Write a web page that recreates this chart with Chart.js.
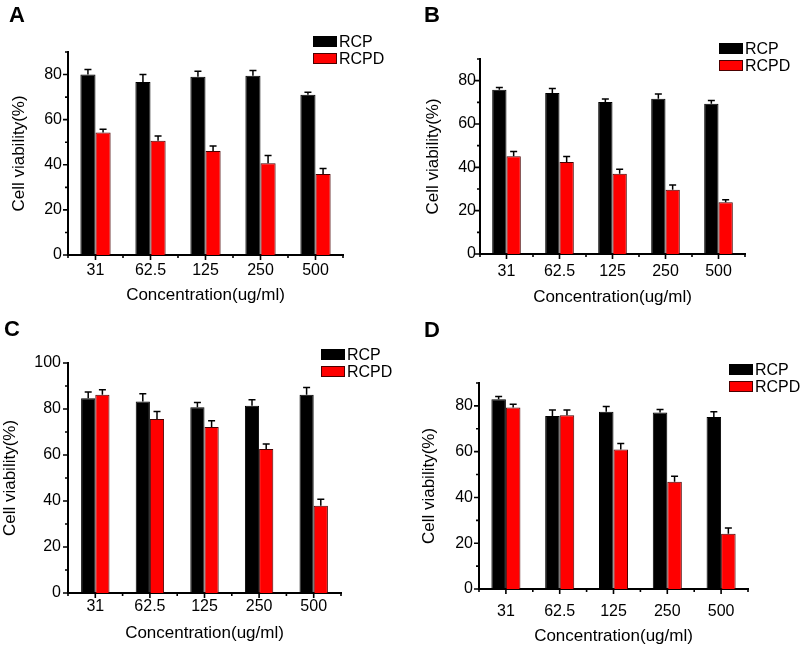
<!DOCTYPE html>
<html><head><meta charset="utf-8">
<script src="https://cdn.jsdelivr.net/npm/chart.js@4.4.0/dist/chart.umd.min.js"></script>
<style>
body{margin:0;background:#fff;}
#wrap{position:relative;width:805px;height:647px;overflow:hidden;font-family:"Liberation Sans",Arial,sans-serif;background:#fff;}
#wrap canvas{position:absolute;}
.letter{position:absolute;font-weight:bold;font-size:22px;line-height:22px;color:#000;}
.legend{position:absolute;font-size:16px;line-height:17px;color:#000;}
.row{display:flex;align-items:center;height:17px;}
.sw{width:24px;height:11px;margin-right:2px;box-sizing:border-box;}
</style></head><body><div id="wrap"></div>
<script>
// ---- data ----
const categories = ['31', '62.5', '125', '250', '500'];
const seriesNames = ['RCP', 'RCPD'];
const panelLetters = ['A', 'B', 'C', 'D'];
const xTitle = 'Concentration(ug/ml)';
const yTitle = 'Cell viability(%)';

const rcpA = [80.0, 76.7, 79.0, 79.5, 71.1];
const rcpAErr = [2.2, 3.3, 2.5, 2.3, 1.0];
const rcpdA = [54.3, 50.6, 46.1, 40.7, 35.9];
const rcpdAErr = [1.5, 2.2, 2.2, 3.4, 2.4];

const rcpB = [75.8, 74.3, 70.1, 71.6, 69.3];
const rcpBErr = [1.1, 2.1, 1.4, 2.2, 1.6];
const rcpdB = [45.1, 42.5, 37.0, 29.6, 23.9];
const rcpdBErr = [2.2, 2.5, 2.1, 2.3, 1.1];

const rcpC = [84.7, 83.3, 80.8, 81.4, 86.2];
const rcpCErr = [2.7, 3.3, 2.0, 2.6, 3.2];
const rcpdC = [86.2, 75.7, 72.2, 62.6, 37.9];
const rcpdCErr = [2.2, 3.2, 2.7, 2.2, 2.9];

const rcpD = [82.9, 75.6, 77.4, 77.1, 75.2];
const rcpDErr = [1.2, 2.6, 2.3, 1.3, 2.2];
const rcpdD = [79.3, 75.9, 61.0, 46.9, 24.1];
const rcpdDErr = [1.4, 2.3, 2.6, 2.4, 2.5];

const yMaxes = [90, 90, 100, 90];
const yMajorStep = 20;
const yMinorStep = 10;

const panelData = [
  [rcpA, rcpAErr, rcpdA, rcpdAErr],
  [rcpB, rcpBErr, rcpdB, rcpdBErr],
  [rcpC, rcpCErr, rcpdC, rcpdCErr],
  [rcpD, rcpDErr, rcpdD, rcpdDErr]
];

// ---- layout / style ----
const seriesColors = ['#000000', '#ff0000'];
const seriesBorders = ['#000000', '#4a0000'];
const layouts = [
  {x:0,   y:0,   w:400, h:320, left:68, right:343, top:52, bottom:255, yTitleX:19,   tickPadX:6,  tickPadY:6, titlePadB:14, cat:0.55, legend:[313,33],  letter:[9,4]},
  {x:400, y:0,   w:405, h:320, left:80, right:345, top:59, bottom:254, yTitleX:33.5, tickPadX:8,  tickPadY:4, titlePadB:12, cat:0.54, legend:[719,40],  letter:[424,4]},
  {x:0,   y:320, w:400, h:327, left:68, right:341, top:43, bottom:273, yTitleX:10,   tickPadX:4,  tickPadY:7, titlePadB:3,  cat:0.52, legend:[321,346], letter:[4,318]},
  {x:400, y:320, w:405, h:327, left:79, right:348, top:63, bottom:269, yTitleX:29.5, tickPadX:13, tickPadY:6, titlePadB:0,  cat:0.54, legend:[729,361], letter:[424,319]}
];

Chart.defaults.font.family = '"Liberation Sans", Arial, sans-serif';
Chart.defaults.color = '#000';

const errPlugin = {
  id: 'errbars',
  afterDatasetsDraw(chart) {
    const ctx = chart.ctx, ys = chart.scales.y;
    chart.data.datasets.forEach((ds, di) => {
      const meta = chart.getDatasetMeta(di);
      meta.data.forEach((bar, i) => {
        const v = ds.data[i], e = ds.errors[i];
        const y0 = ys.getPixelForValue(v), y1 = ys.getPixelForValue(v + e);
        ctx.save();
        ctx.strokeStyle = '#000';
        ctx.lineWidth = 1.5;
        ctx.beginPath();
        ctx.moveTo(bar.x, y0); ctx.lineTo(bar.x, y1);
        ctx.moveTo(bar.x - 3.5, y1); ctx.lineTo(bar.x + 3.5, y1);
        ctx.stroke();
        ctx.restore();
      });
    });
  }
};

const tickPlugin = {
  id: 'tickmarks',
  afterDraw(chart) {
    const ctx = chart.ctx, ys = chart.scales.y, xs = chart.scales.x, ca = chart.chartArea;
    ctx.save();
    ctx.strokeStyle = '#000';
    ctx.lineWidth = 1.6;
    ctx.beginPath();
    for (let v = ys.min; v <= ys.max + 1e-9; v += yMinorStep) {
      const len = (v % yMajorStep === 0) ? 5 : 3;
      const y = ys.getPixelForValue(v);
      ctx.moveTo(ca.left, y); ctx.lineTo(ca.left - len, y);
    }
    const n = categories.length;
    for (let i = 0; i < n; i++) {
      const x = xs.getPixelForValue(i);
      ctx.moveTo(x, ca.bottom); ctx.lineTo(x, ca.bottom + 5);
    }
    for (let i = 0; i <= n; i++) {
      const x = xs.getPixelForValue(i - 0.5);
      ctx.moveTo(x, ca.bottom); ctx.lineTo(x, ca.bottom + 3);
    }
    ctx.stroke();
    ctx.restore();
  }
};

const wrap = document.getElementById('wrap');

layouts.forEach((L, p) => {
  const cv = document.createElement('canvas');
  cv.width = L.w; cv.height = L.h;
  cv.style.left = L.x + 'px'; cv.style.top = L.y + 'px';
  cv.style.width = L.w + 'px'; cv.style.height = L.h + 'px';
  wrap.appendChild(cv);

  const [s1, e1, s2, e2] = panelData[p];
  new Chart(cv.getContext('2d'), {
    type: 'bar',
    data: {
      labels: categories,
      datasets: [
        {label: seriesNames[0], data: s1, errors: e1, backgroundColor: seriesColors[0], borderColor: seriesBorders[0], borderWidth: 1, categoryPercentage: L.cat, barPercentage: 1},
        {label: seriesNames[1], data: s2, errors: e2, backgroundColor: seriesColors[1], borderColor: seriesBorders[1], borderWidth: 1, categoryPercentage: L.cat, barPercentage: 1}
      ]
    },
    options: {
      responsive: false,
      animation: false,
      devicePixelRatio: 1,
      layout: {padding: {left: 0, top: L.top, right: L.w - L.right, bottom: 0}},
      plugins: {legend: {display: false}, tooltip: {enabled: false}},
      scales: {
        x: {
          grid: {display: false, drawTicks: false},
          border: {display: true, color: '#000', width: 2},
          ticks: {font: {size: 16}, padding: L.tickPadX, color: '#000'},
          title: {display: true, text: xTitle, font: {size: 17}, color: '#000', padding: {top: 0, bottom: L.titlePadB}},
          afterFit(s) { s.height = L.h - L.bottom; }
        },
        y: {
          min: 0, max: yMaxes[p],
          grid: {display: false, drawTicks: false},
          border: {display: true, color: '#000', width: 2},
          ticks: {stepSize: yMajorStep, font: {size: 16}, padding: L.tickPadY, color: '#000',
                  callback: v => (v % yMajorStep === 0 ? v : '')},
          title: {display: true, text: yTitle, font: {size: 17}, color: '#000', padding: {top: L.yTitleX - 10.2, bottom: 0}},
          afterFit(s) { s.width = L.left; }
        }
      }
    },
    plugins: [errPlugin, tickPlugin]
  });

  const letter = document.createElement('div');
  letter.className = 'letter';
  letter.textContent = panelLetters[p];
  letter.style.left = L.letter[0] + 'px';
  letter.style.top = L.letter[1] + 'px';
  wrap.appendChild(letter);

  const leg = document.createElement('div');
  leg.className = 'legend';
  leg.style.left = L.legend[0] + 'px';
  leg.style.top = L.legend[1] + 'px';
  seriesNames.forEach((name, si) => {
    const row = document.createElement('div');
    row.className = 'row';
    const sw = document.createElement('span');
    sw.className = 'sw';
    sw.style.background = seriesColors[si];
    sw.style.border = '1px solid ' + seriesBorders[si];
    const t = document.createElement('span');
    t.textContent = name;
    row.appendChild(sw); row.appendChild(t);
    leg.appendChild(row);
  });
  wrap.appendChild(leg);
});
</script></body></html>
